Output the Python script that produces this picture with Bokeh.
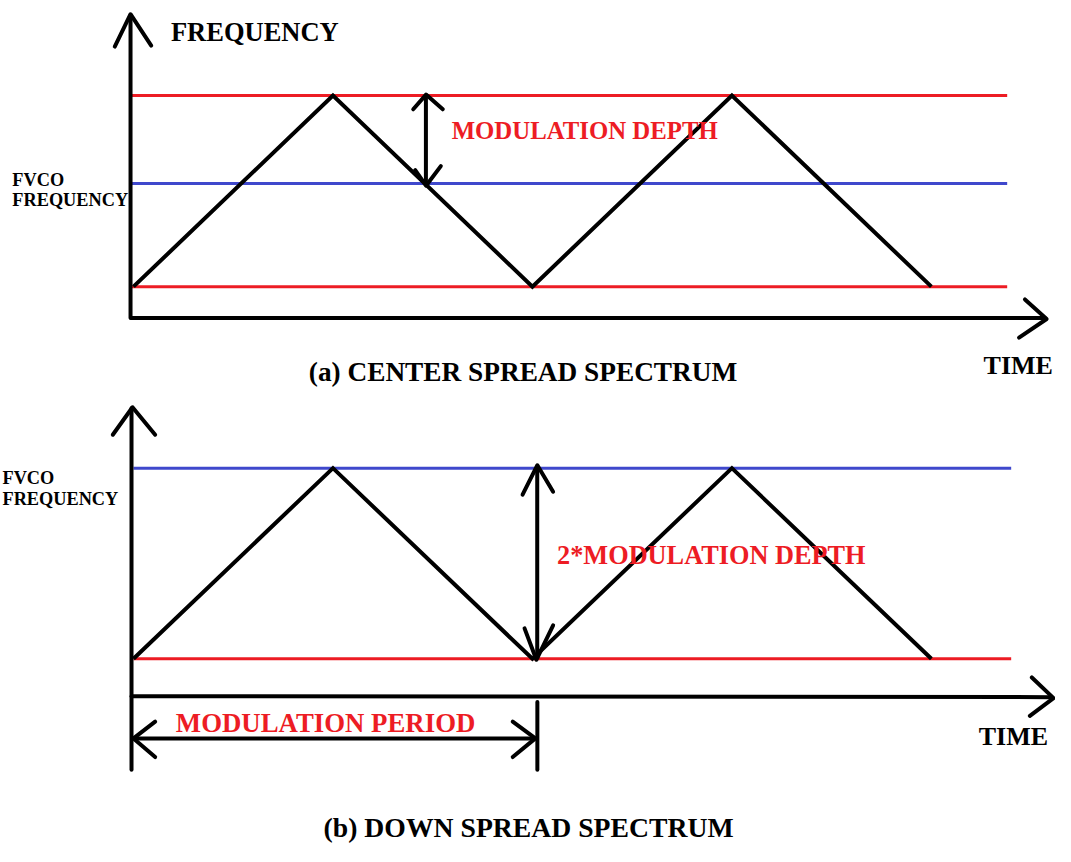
from bokeh.plotting import figure
from bokeh.models import Range1d
from bokeh.layouts import column
from bokeh.core.properties import value
from bokeh.embed import file_html
from bokeh.resources import INLINE

# ---------------- data (time in modulation periods, frequency in units of modulation depth)
time_periods = [0.0, 0.5, 1.0, 1.5, 2.0]
center_freq = [-1.0, 1.0, -1.0, 1.0, -1.0]
center_upper = 1.0
center_fvco = 0.08
center_lower = -1.0
down_freq = [-2.0, 0.0, -2.0, 0.0, -2.0]
down_fvco = 0.0
down_lower = -2.0
level_end = 2.19
depth_arrow_time = 0.733
double_depth_time = 1.012

label_freq = "FREQUENCY"
label_fvco = ["FVCO", "FREQUENCY"]
label_depth = "MODULATION DEPTH"
label_2depth = "2*MODULATION DEPTH"
label_period = "MODULATION PERIOD"
label_time = "TIME"
caption_a = "(a)  CENTER SPREAD SPECTRUM"
caption_b = "(b) DOWN SPREAD SPECTRUM"

RED = "#ed1c24"
BLUE = "#3f48cc"
BLACK = "#000000"
FONT = value("Liberation Serif")

# ---------------- layout scale (image pixels -> data)
T0, PPT = 135.0, 405.0
W = 1055
H_TOP, H_BOT = 392, 454


def make_fig(f0, ppu, top_px, bot_px, h):
    p = figure(width=W, height=h, output_backend="svg", toolbar_location=None,
               x_range=Range1d((0 - T0) / PPT, (1071 - T0) / PPT),
               y_range=Range1d((f0 - bot_px) / ppu, (f0 - top_px) / ppu),
               x_axis_location=None, y_axis_location=None, min_border=0)
    p.grid.visible = False
    p.outline_line_color = None
    p.background_fill_color = "white"
    p.border_fill_color = "white"
    return p


def conv(f0, ppu):
    return (lambda px: (px - T0) / PPT), (lambda py: (f0 - py) / ppu)


def seg(p, X, Y, pts, color=BLACK, width=4):
    p.line([X(a) for a, b in pts], [Y(b) for a, b in pts], line_color=color,
           line_width=width, line_cap="round", line_join="round")


def head(p, X, Y, tip, a1, a2, width=4):
    seg(p, X, Y, [a1, tip, a2], width=width)


def label(p, X, Y, px, py, txt, size, color=BLACK, bold=True):
    p.text(x=[X(px)], y=[Y(py)], text=[txt], text_font=FONT,
           text_font_size=f"{size}px", text_color=color,
           text_font_style="bold" if bold else "normal",
           text_align="left", text_baseline="middle")


# ---------------- top panel: center spread
F0a, Ua = 194.5, 97.5
pa = make_fig(F0a, Ua, 0, 400, H_TOP)
Xa, Ya = conv(F0a, Ua)
ax0 = Xa(132)
for lvl, col in [(center_upper, RED), (center_fvco, BLUE), (center_lower, RED)]:
    pa.line([ax0, level_end], [lvl, lvl], line_color=col, line_width=3)
pa.line(time_periods, center_freq, line_color=BLACK, line_width=4, line_join="miter")
# axes
seg(pa, Xa, Ya, [(132, 15), (132, 324), (1060, 324)])
head(pa, Xa, Ya, (132, 14), (116, 47), (153, 46))
head(pa, Xa, Ya, (1062, 325), (1040, 305), (1034, 344))
# modulation depth arrow
pa.line([depth_arrow_time, depth_arrow_time], [center_upper, center_fvco],
        line_color=BLACK, line_width=4)
head(pa, Xa, Ya, (432, 96), (419, 111), (449, 111))
head(pa, Xa, Ya, (432, 189), (421, 173), (447, 169))
label(pa, Xa, Ya, 173, 32, label_freq, 26.5)
label(pa, Xa, Ya, 458, 133, label_depth, 24.8, color=RED)
label(pa, Xa, Ya, 12, 183, label_fvco[0], 18.3)
label(pa, Xa, Ya, 12, 204, label_fvco[1], 18.3)
label(pa, Xa, Ya, 998, 372, label_time, 26)
label(pa, Xa, Ya, 313, 379, caption_a, 27.3)

# ---------------- bottom panel: down spread
F0b, Ub = 477.0, 97.0
pb = make_fig(F0b, Ub, 400, 862, H_BOT)
Xb, Yb = conv(F0b, Ub)
for lvl, col in [(down_fvco, BLUE), (down_lower, RED)]:
    pb.line([0.0, level_end + 0.01], [lvl, lvl], line_color=col, line_width=3)
pb.line(time_periods, down_freq, line_color=BLACK, line_width=4, line_join="miter")
# axes
seg(pb, Xb, Yb, [(133, 416), (133, 709), (1067, 710)])
seg(pb, Xb, Yb, [(133, 709), (133, 784)])
head(pb, Xb, Yb, (134, 415), (114, 443), (157, 443))
head(pb, Xb, Yb, (1069, 711), (1047, 690), (1045, 729))
# 2*modulation depth arrow
pb.line([double_depth_time, double_depth_time], [down_fvco, down_lower],
        line_color=BLACK, line_width=4)
head(pb, Xb, Yb, (545, 474), (530, 504), (561, 501))
head(pb, Xb, Yb, (544, 672), (532, 640), (561, 637))
# modulation period bracket
seg(pb, Xb, Yb, [(545, 715), (545, 784)])
pb.line([time_periods[0], time_periods[2]], [Yb(752), Yb(752)], line_color=BLACK, line_width=4)
head(pb, Xb, Yb, (135, 752), (157, 735), (157, 771))
head(pb, Xb, Yb, (543, 752), (520, 735), (520, 771))
label(pb, Xb, Yb, 2, 487, label_fvco[0], 18.3)
label(pb, Xb, Yb, 2, 508, label_fvco[1], 18.3)
label(pb, Xb, Yb, 565, 566, label_2depth, 26.3, color=RED)
label(pb, Xb, Yb, 178, 736, label_period, 26.8, color=RED)
label(pb, Xb, Yb, 993, 750, label_time, 26)
label(pb, Xb, Yb, 328, 843, caption_b, 27.7)

layout = column(pa, pb, spacing=0)
open("out.html", "w").write(file_html(layout, INLINE))
